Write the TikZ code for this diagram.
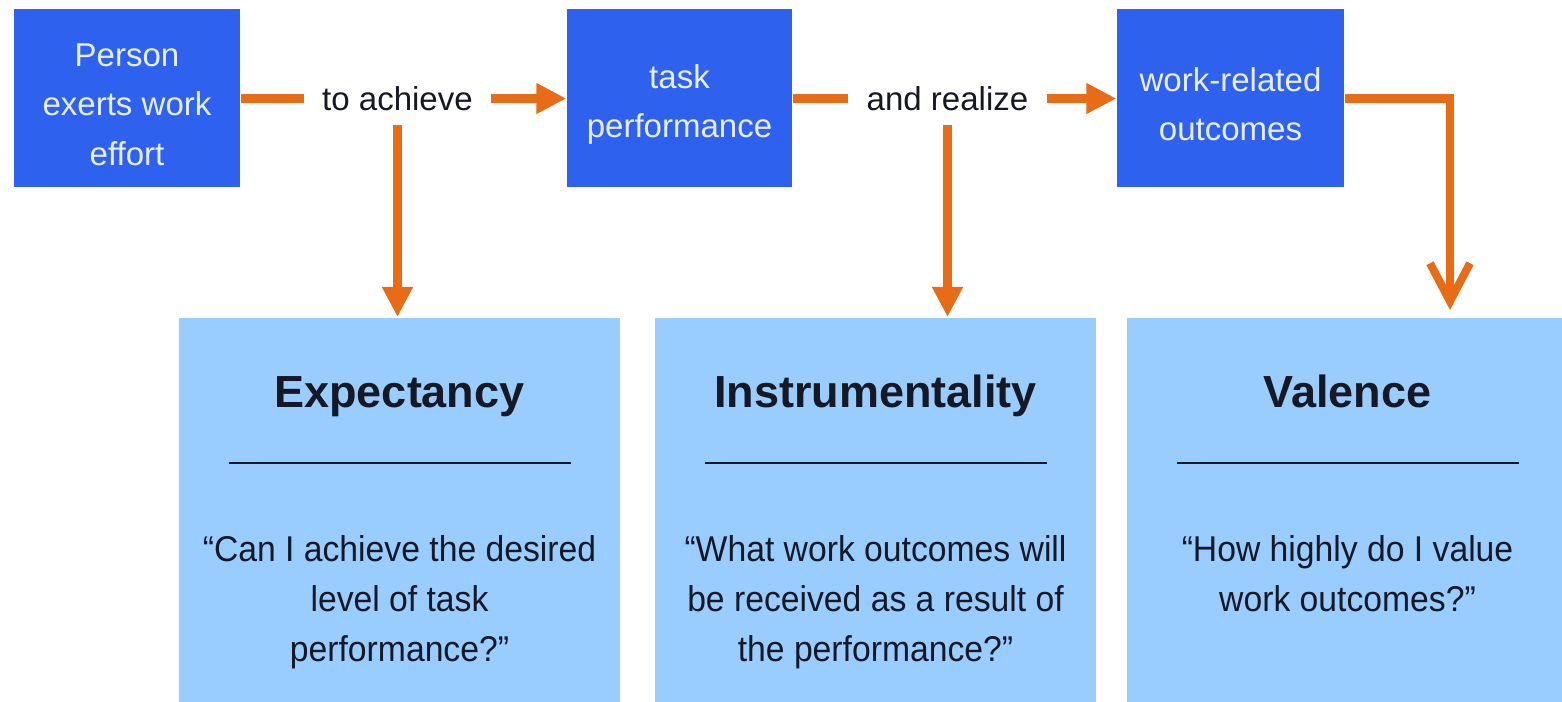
\documentclass[tikz,border=0pt]{standalone}
\usepackage{fontspec}
\setmainfont{Liberation Sans}
\newfontfamily\narrowsans[FakeStretch=0.94]{Liberation Sans}
\usetikzlibrary{positioning, arrows.meta}
\usepackage{xcolor}
\definecolor{effortblue}{RGB}{46,98,238}
\definecolor{paleblue}{RGB}{153,204,255}
\definecolor{flowor}{RGB}{232,108,22}
\definecolor{inktext}{RGB}{22,24,36}
\definecolor{boxtext}{RGB}{232,238,255}
\newcommand{\toplift}{\rule{0pt}{10pt}}

\begin{document}
\begin{tikzpicture}[
  topbox/.style={rectangle, fill=effortblue, text=boxtext, minimum width=2.26cm, minimum height=1.78cm, inner sep=0pt, align=center, font=\fontsize{9.4}{14}\selectfont},
  linkword/.style={text=inktext, inner xsep=5pt, inner ysep=4pt, font=\fontsize{9.4}{11}\selectfont},
  askbox/.style={rectangle, fill=paleblue, minimum width=4.41cm, minimum height=3.95cm, anchor=north, inner sep=0pt},
  headword/.style={text=inktext, anchor=base, inner sep=0pt, font=\fontsize{12.8}{15}\selectfont\bfseries},
  question/.style={text=inktext, anchor=north, inner sep=0pt, align=center, font=\narrowsans\fontsize{10.2}{14.2}\selectfont},
  underrule/.style={draw=inktext, line width=0.7pt},
  flow/.style={draw=flowor, line width=2.3pt},
  flowarr/.style={flow, -{Triangle[length=3mm, width=2.9mm]}},
  openarr/.style={flow, -{Straight Barb[length=3.8mm, width=4mm]}}
] % 1 單位 = 100 px

\path[use as bounding box, fill=white] (0,0) rectangle (15.62,-7.02);

% 上排：努力 -> 績效 -> 結果
\node[topbox] (per) at (1.27,-0.985) {\toplift Person\\exerts work\\effort};
\node[topbox, minimum width=2.25cm] (tsk) at (6.795,-0.985) {\toplift task\\performance};
\node[topbox, minimum width=2.27cm] (wro) at (12.305,-0.985) {\toplift work-related\\outcomes};

\node[linkword] (ach) at (3.975,-0.985) {to achieve};
\node[linkword] (rea) at (9.475,-0.985) {and realize};

% 下排：三個問題方塊
\node[askbox] (exp) at (3.995,-3.17) {};
\node[askbox] (ins) at (8.755,-3.17) {};
\node[askbox] (val) at (13.475,-3.17) {};

\node[headword] (expT) at (3.995,-4.08) {Expectancy};
\node[headword] (insT) at (8.755,-4.08) {Instrumentality};
\node[headword] (valT) at (13.475,-4.08) {Valence};

\draw[underrule] (2.285,-4.63) -- (5.705,-4.63);
\draw[underrule] (7.045,-4.63) -- (10.465,-4.63);
\draw[underrule] (11.765,-4.63) -- (15.185,-4.63);

\node[question] (expQ) at (3.995,-5.35) {“Can I achieve the desired\\level of task\\performance?”};
\node[question] (insQ) at (8.755,-5.35) {“What work outcomes will\\be received as a result of\\the performance?”};
\node[question] (valQ) at (13.475,-5.35) {“How highly do I value\\work outcomes?”};

% 箭頭
\draw[flow] (per.east) -- (ach.west);
\draw[flowarr] (ach.east) -- (tsk.west);
\draw[flowarr] (ach.south) -- (ach.south |- exp.north);
\draw[flow] (tsk.east) -- (rea.west);
\draw[flowarr] (rea.east) -- (wro.west);
\draw[flowarr] (rea.south) -- (rea.south |- ins.north);
\coordinate (turn) at (14.50,-0.985);
\draw[openarr] (wro.east) -- (turn) -- ([yshift=2pt]turn |- val.north);

\end{tikzpicture}
\end{document}
